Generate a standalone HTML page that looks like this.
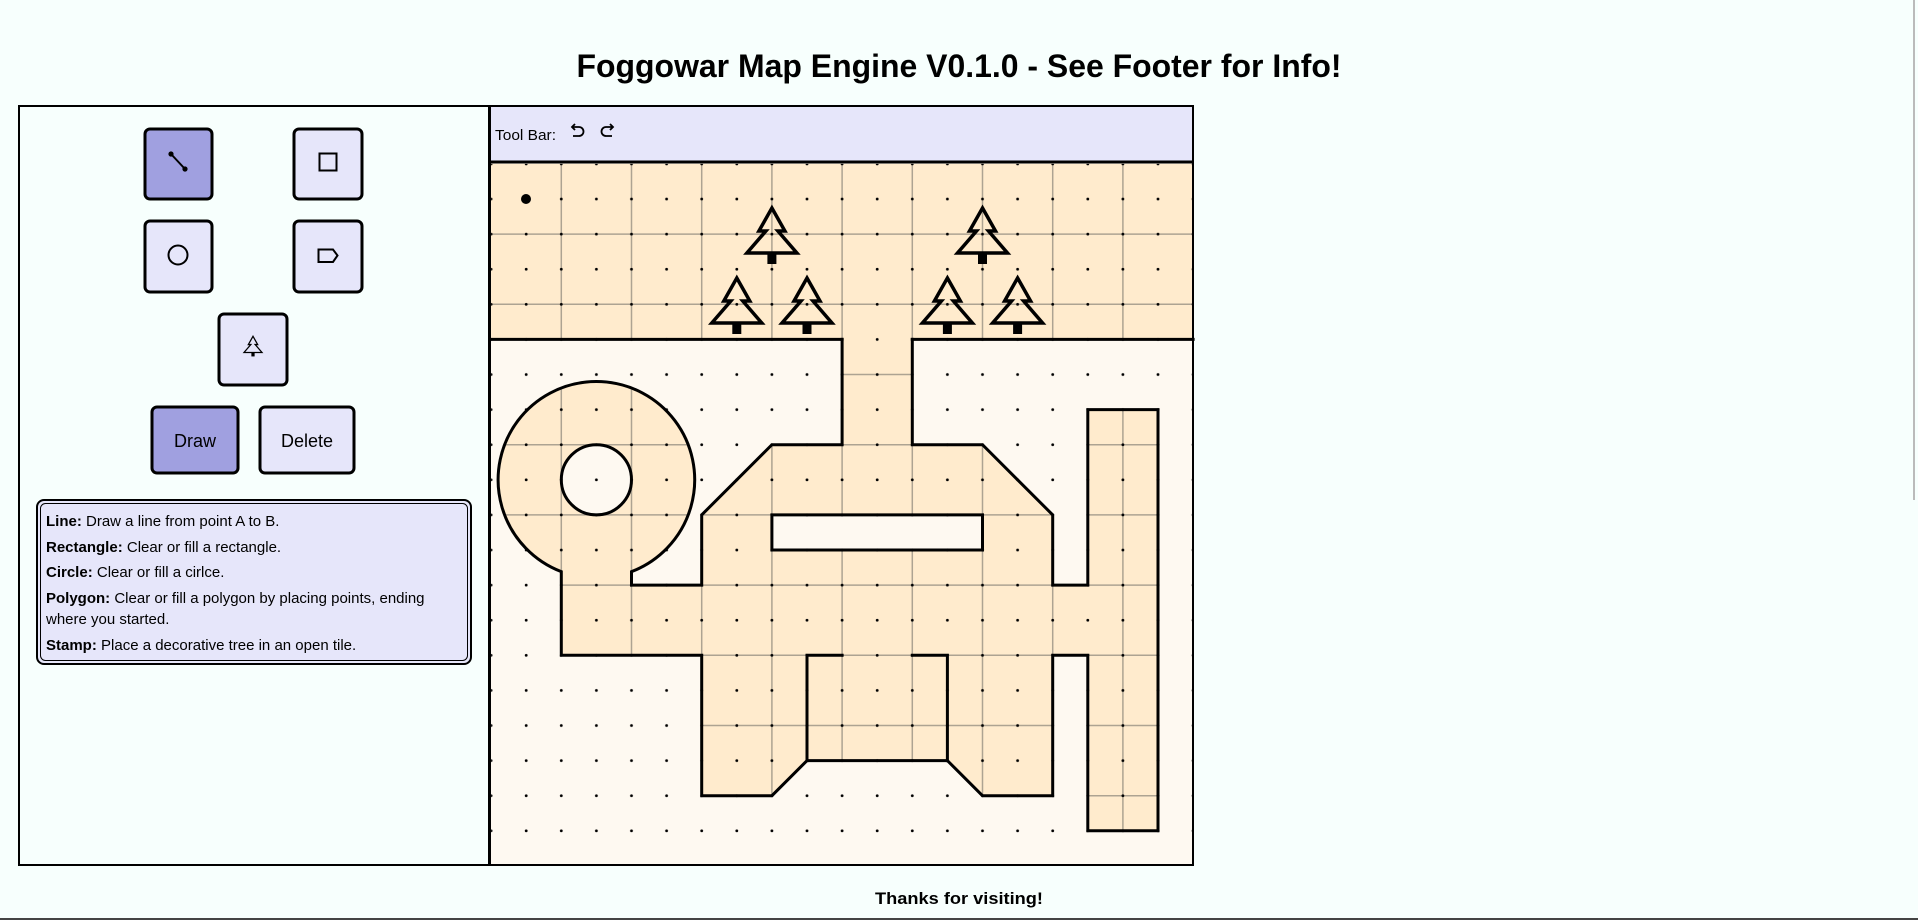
<!DOCTYPE html>
<html><head><meta charset="utf-8"><style>
html,body{margin:0;padding:0;background:#f7fffd;width:1918px;height:920px;overflow:hidden}
svg{display:block}
text{font-family:"Liberation Sans",sans-serif}
</style></head><body>
<svg width="1918" height="920" viewBox="0 0 1918 920" xmlns="http://www.w3.org/2000/svg">
<defs>
<clipPath id="fillclip">
<rect x="0" y="0" width="10" height="2.5"/>
<path clip-rule="evenodd" d="M5 2.4 V4 H4 L3 5 V6 H2 V5.808 A1.4 1.4 0 1 0 1 5.808 V7 H3 V9 H4 L4.5 8.5 H6.5 L7 9 H8 V7 H8.5 V9.5 H9.5 V3.5 H8.5 V6 H8 V5 L7 4 H6 V2.4 Z M2 4.5 A0.5 0.5 0 1 0 1 4.5 A0.5 0.5 0 1 0 2 4.5 Z M4 5 H7 V5.5 H4 Z"/>
</clipPath>
<pattern id="dots" patternUnits="userSpaceOnUse" x="-0.25" y="-0.25" width="0.5" height="0.5">
<circle cx="0.25" cy="0.25" r="0.02" fill="#000"/>
</pattern>
<g id="tree" fill="none" stroke="#000" stroke-width="3.5" stroke-linejoin="miter">
<path d="M0 -27 L13 -4 L6 -4 L25 18 L-25 18 L-6 -4 L-13 -4 Z"/>
<rect x="-4.5" y="18" width="9" height="11" fill="#000" stroke="none"/>
</g>
</defs>

<text x="959" y="77" font-size="32" font-weight="bold" text-anchor="middle" textLength="765" lengthAdjust="spacingAndGlyphs">Foggowar Map Engine V0.1.0 - See Footer for Info!</text>

<rect x="19" y="106" width="471" height="759" fill="#f7fffd" stroke="#000" stroke-width="2"/>

<rect x="145" y="129" width="67" height="70" rx="5" fill="#a0a0e0" stroke="#000" stroke-width="3"/>
<line x1="171" y1="154" x2="185" y2="169" stroke="#000" stroke-width="2"/>
<circle cx="171" cy="154" r="2.6"/><circle cx="185" cy="169" r="2.6"/>

<rect x="294" y="129" width="68" height="70" rx="5" fill="#e6e6fa" stroke="#000" stroke-width="3"/>
<rect x="319.5" y="153.5" width="17" height="17" fill="none" stroke="#000" stroke-width="2"/>

<rect x="145" y="221" width="67" height="71" rx="5" fill="#e6e6fa" stroke="#000" stroke-width="3"/>
<circle cx="178" cy="255" r="9.5" fill="none" stroke="#000" stroke-width="2"/>

<rect x="294" y="221" width="68" height="71" rx="5" fill="#e6e6fa" stroke="#000" stroke-width="3"/>
<path d="M318.5 249.5 H333 L337.5 255.5 L333 262 H318.5 Z" fill="none" stroke="#000" stroke-width="2"/>

<rect x="219" y="314" width="68" height="71" rx="5" fill="#e6e6fa" stroke="#000" stroke-width="3"/>
<g transform="translate(253,346) scale(0.36)"><use href="#tree"/></g>

<rect x="152" y="407" width="86" height="66" rx="5" fill="#a0a0e0" stroke="#000" stroke-width="3"/>
<text x="195" y="447" font-size="18" text-anchor="middle">Draw</text>
<rect x="260" y="407" width="94" height="66" rx="5" fill="#e6e6fa" stroke="#000" stroke-width="3"/>
<text x="307" y="447" font-size="18" text-anchor="middle">Delete</text>

<rect x="37" y="500" width="434" height="164" rx="7" fill="#e6e6fa" stroke="#000" stroke-width="2"/>
<rect x="40.5" y="503.5" width="427" height="157" rx="5" fill="none" stroke="#000" stroke-width="1"/>
<g font-size="15">
<text x="46" y="526"><tspan font-weight="bold">Line:</tspan> Draw a line from point A to B.</text>
<text x="46" y="552"><tspan font-weight="bold">Rectangle:</tspan> Clear or fill a rectangle.</text>
<text x="46" y="577"><tspan font-weight="bold">Circle:</tspan> Clear or fill a cirlce.</text>
<text x="46" y="603"><tspan font-weight="bold">Polygon:</tspan> Clear or fill a polygon by placing points, ending</text>
<text x="46" y="624">where you started.</text>
<text x="46" y="650"><tspan font-weight="bold">Stamp:</tspan> Place a decorative tree in an open tile.</text>
</g>

<rect x="490" y="106" width="703" height="759" fill="#fef9f1"/>
<rect x="490" y="106" width="703" height="56" fill="#e6e6fa"/>
<text x="495" y="140" font-size="15" textLength="61" lengthAdjust="spacingAndGlyphs">Tool Bar:</text>
<g fill="none" stroke="#000" stroke-width="1.8">
<path d="M572 127 h7 a4.5 4.5 0 0 1 0 9 h-6"/>
<path d="M575 124 l-3 3 l3 3"/>
<path d="M613 127 h-7 a4.5 4.5 0 0 0 0 9 h6"/>
<path d="M610 124 l3 3 l-3 3"/>
</g>

<g transform="translate(491.1,163.9) scale(70.2)">
<rect x="0" y="0" width="10" height="2.5" fill="#ffebcd"/>
<path fill="#ffebcd" fill-rule="evenodd" d="M5 2.4 V4 H4 L3 5 V6 H2 V5.808 A1.4 1.4 0 1 0 1 5.808 V7 H3 V9 H4 L4.5 8.5 H6.5 L7 9 H8 V7 H8.5 V9.5 H9.5 V3.5 H8.5 V6 H8 V5 L7 4 H6 V2.4 Z M2 4.5 A0.5 0.5 0 1 0 1 4.5 A0.5 0.5 0 1 0 2 4.5 Z M4 5 H7 V5.5 H4 Z"/>
<g clip-path="url(#fillclip)" stroke="#ada392" stroke-width="1.5">
<path vector-effect="non-scaling-stroke" d="M1 0V10M2 0V10M3 0V10M4 0V10M5 0V10M6 0V10M7 0V10M8 0V10M9 0V10M0 1H10M0 2H10M0 3H10M0 4H10M0 5H10M0 6H10M0 7H10M0 8H10M0 9H10"/>
</g>
<rect x="0" y="0" width="10" height="10" fill="url(#dots)"/>
<g fill="none" stroke="#000" stroke-width="3" stroke-linecap="square">
<path vector-effect="non-scaling-stroke" d="M5 2.5 V4 H4 L3 5 V6 H2 V5.808 A1.4 1.4 0 1 0 1 5.808 V7 H3 V9 H4 L4.5 8.5 H6.5 L7 9 H8 V7 H8.5 V9.5 H9.5 V3.5 H8.5 V6 H8 V5 L7 4 H6 V2.5"/>
<path vector-effect="non-scaling-stroke" d="M0 2.5 H5 M6 2.5 H10"/>
<path vector-effect="non-scaling-stroke" d="M2 4.5 A0.5 0.5 0 1 0 1 4.5 A0.5 0.5 0 1 0 2 4.5 Z"/>
<path vector-effect="non-scaling-stroke" d="M4 5 H7 V5.5 H4 Z"/>
<path vector-effect="non-scaling-stroke" d="M4.5 8.5 V7 H5 M6 7 H6.5 V8.5"/>
</g>
</g>

<use href="#tree" x="771.9" y="235"/>
<use href="#tree" x="982.5" y="235"/>
<use href="#tree" x="736.8" y="305"/>
<use href="#tree" x="807" y="305"/>
<use href="#tree" x="947.4" y="305"/>
<use href="#tree" x="1017.6" y="305"/>
<circle cx="526" cy="199" r="5" fill="#000"/>

<line x1="490" y1="162" x2="1193" y2="162" stroke="#000" stroke-width="3"/>
<rect x="490" y="106" width="703" height="759" fill="none" stroke="#000" stroke-width="2"/>
<line x1="489.5" y1="105" x2="489.5" y2="866" stroke="#000" stroke-width="3"/>

<text x="959" y="904" font-size="17" font-weight="bold" text-anchor="middle" textLength="168" lengthAdjust="spacingAndGlyphs">Thanks for visiting!</text>
<line x1="0" y1="919" x2="1918" y2="919" stroke="#444" stroke-width="2"/>
<rect x="1913" y="0" width="2" height="500" fill="#bbb"/>
</svg>
</body></html>
